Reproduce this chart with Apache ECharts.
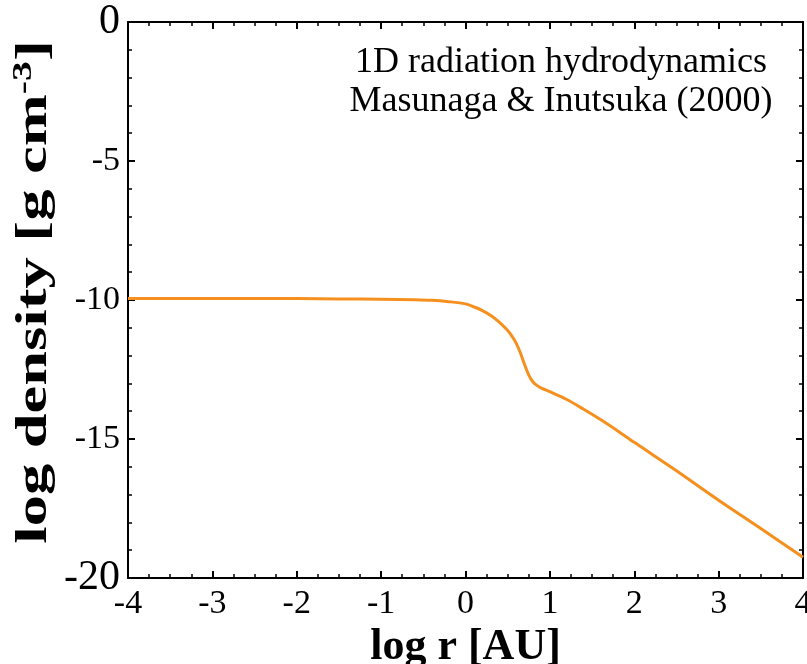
<!DOCTYPE html>
<html>
<head>
<meta charset="utf-8">
<script src="https://cdn.jsdelivr.net/npm/echarts@6/dist/echarts.min.js"></script>
<style>html,body{margin:0;padding:0;background:#fff;}#c{width:807px;height:664px;}</style>
</head>
<body>
<div id="c"></div>
<script>
const logR = [-4, -3, -2, -1.5, -1, -0.6, -0.4, -0.2, 0, 0.1, 0.2, 0.3, 0.4, 0.5, 0.55, 0.6, 0.65, 0.7, 0.75, 0.8, 0.85, 0.9, 1.0, 1.2, 1.4, 1.6, 1.8, 2.0, 2.5, 3.0, 3.5, 4.0];
const logDensity = [-9.95, -9.95, -9.95, -9.96, -9.97, -9.99, -10.01, -10.06, -10.14, -10.25, -10.38, -10.56, -10.8, -11.1, -11.3, -11.55, -11.9, -12.32, -12.7, -12.95, -13.08, -13.17, -13.3, -13.58, -13.93, -14.3, -14.7, -15.12, -16.14, -17.2, -18.22, -19.25];
const annotationLines = ['1D radiation hydrodynamics', 'Masunaga & Inutsuka (2000)'];

const serif = '"Liberation Serif", "DejaVu Serif", serif';
const chart = echarts.init(document.getElementById('c'));
const axisLine = { show: true, onZero: false, lineStyle: { color: '#000', width: 2 } };
const tick = { show: true, inside: true, length: 7, lineStyle: { color: '#000', width: 2 } };
const minor = { show: true, splitNumber: 4, length: 4, lineStyle: { color: '#000', width: 1.5 } };
const minorY = { show: true, splitNumber: 5, length: 4, lineStyle: { color: '#000', width: 1.5 } };

chart.setOption({
  animation: false,
  backgroundColor: '#fff',
  grid: { left: 128, right: 4, top: 22, bottom: 86, containLabel: false, outerBoundsMode: 'none' },
  xAxis: [{
    type: 'value', min: -4, max: 4, interval: 1,
    axisLine, axisTick: tick, minorTick: minor, splitLine: { show: false },
    axisLabel: { color: '#000', fontFamily: serif, fontSize: 34, margin: 9 },
    name: 'log r [AU]', nameLocation: 'middle', nameGap: 48,
    nameTextStyle: { color: '#000', fontFamily: serif, fontSize: 44, fontWeight: 'bold' }
  }, {
    type: 'value', position: 'top', min: -4, max: 4, interval: 1,
    axisLine, axisTick: tick, minorTick: minor, splitLine: { show: false }, axisLabel: { show: false }
  }],
  yAxis: [{
    type: 'value', min: -20, max: 0, interval: 5,
    axisLine, axisTick: tick, minorTick: minorY, splitLine: { show: false },
    axisLabel: {
      color: '#000', fontFamily: serif, fontSize: 34, margin: 8,
      formatter: v => (v === 0 || v === -20) ? '{big|' + v + '}' : String(v),
      rich: { big: { fontFamily: serif, fontSize: 42, color: '#000' } }
    }
  }, {
    type: 'value', position: 'right', min: -20, max: 0, interval: 5,
    axisLine, axisTick: tick, minorTick: minorY, splitLine: { show: false }, axisLabel: { show: false }
  }],
  series: [{
    type: 'line', xAxisIndex: 0, yAxisIndex: 0,
    data: logR.map((x, i) => [x, logDensity[i]]),
    showSymbol: false, smooth: 0.3,
    lineStyle: { color: '#F5901E', width: 3 }
  }],
  graphic: [
    ...annotationLines.map((t, i) => ({
      type: 'text',
      style: { text: t, fill: '#000', font: '36px ' + serif, textAlign: 'center', textVerticalAlign: 'middle', x: 561, y: 63 + i * 39 }
    })),
    {
      type: 'text', x: 35, y: 292, rotation: Math.PI / 2, scaleX: 1.42, scaleY: 1,
      style: {
        text: '{a|log density [g cm}{s|-3}{a|]}',
        align: 'center', verticalAlign: 'middle',
        rich: {
          a: { fill: '#000', fontFamily: serif, fontSize: 44, fontWeight: 'bold', lineHeight: 50 },
          s: { fill: '#000', fontFamily: serif, fontSize: 28, fontWeight: 'bold', verticalAlign: 'top', lineHeight: 50, padding: [0, 0, 14, 0] }
        }
      }
    }
  ]
});
</script>
</body>
</html>
